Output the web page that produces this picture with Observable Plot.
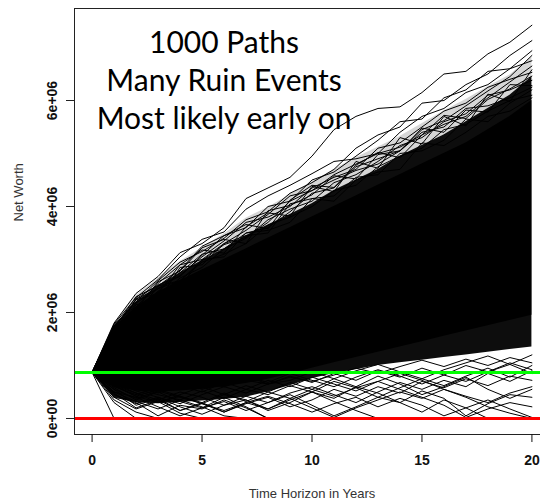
<!DOCTYPE html>
<html><head><meta charset="utf-8">
<script src="https://cdn.jsdelivr.net/npm/d3@7"></script>
<script src="https://cdn.jsdelivr.net/npm/@observablehq/plot@0.6"></script>
<style>html,body{margin:0;padding:0;overflow:hidden;background:#fff}#chart svg{display:block;max-width:none !important;width:560px;height:501px}</style>
</head><body><div id="chart"></div>
<script>
// Years on the time axis
const years = [0,1,2,3,4,5,6,7,8,9,10,11,12,13,14,15,16,17,18,19,20];
// Net worth in millions
const startLevel = 0.87;      // green reference line (starting net worth)
const ruinLevel = 0;          // red reference line
// Envelopes of the mass of the 1000 paths: loose upper mesh, speckled, near-solid
const meshHigh  = [0.87,1.80,2.32,2.64,2.96,3.22,3.48,3.78,3.98,4.22,4.46,4.70,4.92,5.12,5.32,5.56,5.80,6.02,6.26,6.48,6.82];
const speckLow  = [0.87,0.38,0.30,0.28,0.30,0.33,0.36,0.40,0.50,0.62,0.75,0.85,0.92,1.00,1.05,1.10,1.15,1.20,1.25,1.30,1.35];
const speckHigh = [0.87,1.75,2.20,2.50,2.75,2.98,3.20,3.45,3.65,3.85,4.05,4.30,4.50,4.70,4.95,5.15,5.35,5.60,5.85,6.10,6.45];
const coreLow   = [0.87,0.60,0.52,0.50,0.52,0.55,0.60,0.66,0.74,0.84,0.95,1.05,1.15,1.25,1.35,1.45,1.55,1.65,1.75,1.85,1.95];
const coreHigh  = [0.87,1.70,2.10,2.38,2.60,2.80,3.00,3.20,3.40,3.60,3.80,4.00,4.20,4.40,4.60,4.80,5.00,5.20,5.45,5.70,6.00];
// Individual upper outlier paths
const upperPaths = [
  [0.87,1.80,2.36,2.68,3.13,3.30,3.60,4.15,4.35,4.55,4.95,5.45,5.70,5.85,5.88,6.15,6.50,6.55,6.88,7.10,7.42],
  [0.87,1.75,2.20,2.60,2.95,3.15,3.40,3.75,3.90,4.25,4.45,4.70,5.10,5.35,5.50,5.95,6.00,6.30,6.50,6.85,7.13],
  [0.87,1.70,2.30,2.50,2.80,3.25,3.45,3.60,4.00,4.10,4.50,4.65,4.95,5.25,5.60,5.65,6.05,6.20,6.55,6.60,6.94],
  [0.87,1.65,2.10,2.55,2.90,3.00,3.30,3.55,3.85,4.20,4.30,4.60,4.80,5.00,5.40,5.70,5.85,6.15,6.30,6.60,6.75],
  [0.87,1.72,2.25,2.45,2.70,3.05,3.35,3.70,3.80,4.00,4.35,4.55,4.70,5.10,5.20,5.50,5.80,5.95,6.25,6.40,6.53],
  [0.87,1.60,2.05,2.40,2.75,3.10,3.20,3.40,3.75,3.95,4.10,4.45,4.60,4.85,5.15,5.30,5.60,5.75,6.10,6.20,6.38],
  [0.87,1.55,2.00,2.30,2.65,2.85,3.20,3.50,3.60,3.90,4.25,4.35,4.75,4.90,5.05,5.40,5.50,5.85,5.90,6.05,6.25],
  [0.87,1.68,1.95,2.50,2.60,2.95,3.10,3.30,3.65,3.80,4.00,4.30,4.40,4.75,4.95,5.10,5.45,5.55,5.80,6.00,6.10],
  [0.87,1.50,2.15,2.20,2.85,2.90,3.30,3.45,3.50,4.05,4.15,4.20,4.55,4.60,5.00,5.05,5.25,5.65,5.60,5.95,6.20],
  [0.87,1.62,1.90,2.35,2.50,3.00,3.05,3.50,3.55,3.70,4.15,4.10,4.50,4.65,4.70,5.20,5.15,5.40,5.70,5.80,6.05],
  [0.87,1.78,2.28,2.62,3.05,3.38,3.52,3.95,4.20,4.40,4.62,4.85,4.90,5.00,5.12,5.35,5.55,5.70,6.05,6.35,6.65],
  [0.87,1.58,2.18,2.45,2.60,2.98,3.28,3.42,3.70,4.10,4.30,4.50,4.68,4.80,5.05,5.45,5.62,5.90,6.18,6.45,6.85],
  [0.87,1.66,2.24,2.36,2.90,3.18,3.12,3.62,3.88,3.82,4.38,4.28,4.85,4.72,5.30,5.18,5.70,5.52,6.12,5.98,6.58],
  [0.87,1.74,2.05,2.58,2.78,3.22,3.38,3.30,3.92,4.02,4.22,4.58,4.52,4.98,5.05,5.48,5.40,5.82,5.78,6.30,6.28],
  [0.87,1.52,2.26,2.52,2.68,3.08,3.45,3.66,3.58,4.12,4.40,4.36,4.78,5.02,4.92,5.35,5.72,5.66,6.02,6.22,6.46]
];
// Individual lower outlier paths (a path that hits 0 is ruined and stops)
const lowerPaths = [
  [0.87,0.00],
  [0.87,0.35,0.12,0.00],
  [0.87,0.45,0.30,0.05,0.25,0.18,0.35,0.20,0.00],
  [0.87,0.55,0.25,0.38,0.15,0.30,0.12,0.28,0.40,0.22,0.35,0.55,0.42,0.60,0.48,0.70,0.58,0.75,0.62,0.80,0.72],
  [0.87,0.50,0.40,0.22,0.05,0.20,0.32,0.15,0.30,0.45,0.25,0.05,0.22,0.40,0.30,0.52,0.38,0.05,0.28,0.45,0.40],
  [0.87,0.62,0.42,0.30,0.42,0.28,0.45,0.35,0.15,0.30,0.50,0.38,0.60,0.48,0.30,0.12,0.35,0.20,0.00],
  [0.87,0.40,0.18,0.32,0.10,0.00],
  [0.87,0.58,0.35,0.50,0.32,0.20,0.40,0.22,0.00],
  [0.87,0.66,0.48,0.35,0.50,0.40,0.25,0.42,0.30,0.48,0.60,0.45,0.30,0.50,0.68,0.55,0.72,0.60,0.85,0.70,0.90],
  [0.87,0.70,0.55,0.45,0.35,0.52,0.38,0.55,0.45,0.62,0.50,0.70,0.58,0.40,0.58,0.75,0.62,0.80,0.95,0.78,1.00],
  [0.87,0.45,0.28,0.40,0.22,0.08,0.25,0.35,0.18,0.35,0.50,0.32,0.15,0.00],
  [0.87,0.62,0.48,0.30,0.45,0.60,0.45,0.62,0.50,0.68,0.55,0.75,0.60,0.80,0.65,0.45,0.60,0.78,0.55,0.38,0.55],
  [0.87,0.72,0.60,0.48,0.62,0.50,0.68,0.55,0.72,0.60,0.78,0.65,0.52,0.70,0.85,0.72,0.55,0.40,0.22,0.10,0.00],
  [0.87,0.50,0.32,0.18,0.35,0.22,0.05,0.00],
  [0.87,0.68,0.52,0.40,0.28,0.45,0.60,0.48,0.65,0.80,0.68,0.85,0.72,0.90,0.78,0.95,0.82,1.00,0.88,1.05,0.92],
  [0.87,0.75,0.62,0.75,0.62,0.78,0.65,0.80,0.68,0.85,0.72,0.60,0.78,0.92,0.80,0.65,0.82,0.70,0.88,1.02,0.85],
  [0.87,0.55,0.38,0.52,0.40,0.28,0.15,0.30,0.42,0.28,0.12,0.28,0.40,0.22,0.38,0.25,0.05,0.20,0.35,0.18,0.02],
  [0.87,0.62,0.42,0.55,0.42,0.30,0.48,0.32,0.50,0.38,0.55,0.42,0.58,0.70,0.55,0.40,0.25,0.02,0.18,0.30,0.22],
  [0.87,0.78,0.70,0.62,0.55,0.68,0.60,0.72,0.65,0.78,0.70,0.82,0.95,0.85,0.98,1.10,0.98,1.12,1.00,1.15,1.05],
  [0.87,0.60,0.45,0.58,0.70,0.55,0.68,0.80,0.65,0.72,0.88,0.75,0.90,1.02,0.88,0.75,0.92,1.05,1.18,1.02,1.20],
  [0.87,0.30,0.00],
  [0.87,0.48,0.20,0.35,0.15,0.28,0.12,0.30,0.18,0.38,0.20,0.02,0.20,0.35,0.50,0.38,0.55,0.42,0.30,0.48,0.60]
];
// Axis ticks and labels
const xTicks = [0,5,10,15,20];
const yTicks = [0,2,4,6];
const yTickLabels = ["0e+00","2e+06","4e+06","6e+06"];
const xTitle = "Time Horizon in Years";
const yTitle = "Net Worth";
const annotation = "1000 Paths\nMany Ruin Events\nMost likely early on";
const annoX = 6;
const annoY = 7.42;

const bandRows = years.map((t, i) => ({year: t, mhi: meshHigh[i], lo: speckLow[i], hi: speckHigh[i], clo: coreLow[i], chi: coreHigh[i]}));
const pathRows = [];
upperPaths.forEach((p, k) => p.forEach((v, i) => pathRows.push({id: "u" + k, year: years[i], value: v})));
lowerPaths.forEach((p, k) => p.forEach((v, i) => pathRows.push({id: "l" + k, year: years[i], value: v})));

const chart = Plot.plot({
  width: 560,
  height: 501,
  marginLeft: 74,
  marginRight: 11,
  marginTop: 8,
  marginBottom: 67,
  style: {fontFamily: "'Liberation Sans', Arial, sans-serif", background: "#fff", maxWidth: "none"},
  x: {domain: [-0.8, 20.8], axis: null},
  y: {domain: [-0.302, 7.736], axis: null},
  marks: [
    Plot.areaY(bandRows, {x: "year", y1: "hi", y2: "mhi", fill: "#000", fillOpacity: 0.16}),
    Plot.areaY(bandRows, {x: "year", y1: "lo", y2: "hi", fill: "#000", fillOpacity: 0.95}),
    Plot.areaY(bandRows, {x: "year", y1: "clo", y2: "chi", fill: "#000"}),
    Plot.line(pathRows, {x: "year", y: "value", z: "id", stroke: "#000", strokeWidth: 1, clip: true}),
    Plot.ruleY([startLevel], {stroke: "#00ff00", strokeWidth: 3}),
    Plot.ruleY([ruinLevel], {stroke: "#ff0000", strokeWidth: 3}),
    Plot.frame({stroke: "#222"}),
    Plot.axisX(xTicks, {tickSize: 8, tickPadding: 13, fontSize: 14, fontWeight: "bold", color: "#111", label: null}),
    Plot.axisY(yTicks, {tickSize: 8, tickFormat: () => "", color: "#222", label: null}),
    Plot.text(yTicks, {y: d => d, text: (d, i) => yTickLabels[i], frameAnchor: "left", dx: -22, rotate: -90, fontSize: 14, fontWeight: "bold", fill: "#111", textAnchor: "middle", lineAnchor: "middle"}),
    Plot.text([xTitle], {frameAnchor: "bottom", dy: 59, fontSize: 13, fill: "#333", lineAnchor: "middle"}),
    Plot.text([yTitle], {frameAnchor: "left", dx: -56, rotate: -90, fontSize: 13, fill: "#333", lineAnchor: "middle"}),
    Plot.text([annotation], {x: () => annoX, y: () => annoY, text: d => d, lineAnchor: "top", lineHeight: 1.28, fontSize: 30, fontFamily: "Lato", fill: "#000"})
  ]
});
document.getElementById("chart").appendChild(chart);
</script>
</body></html>
